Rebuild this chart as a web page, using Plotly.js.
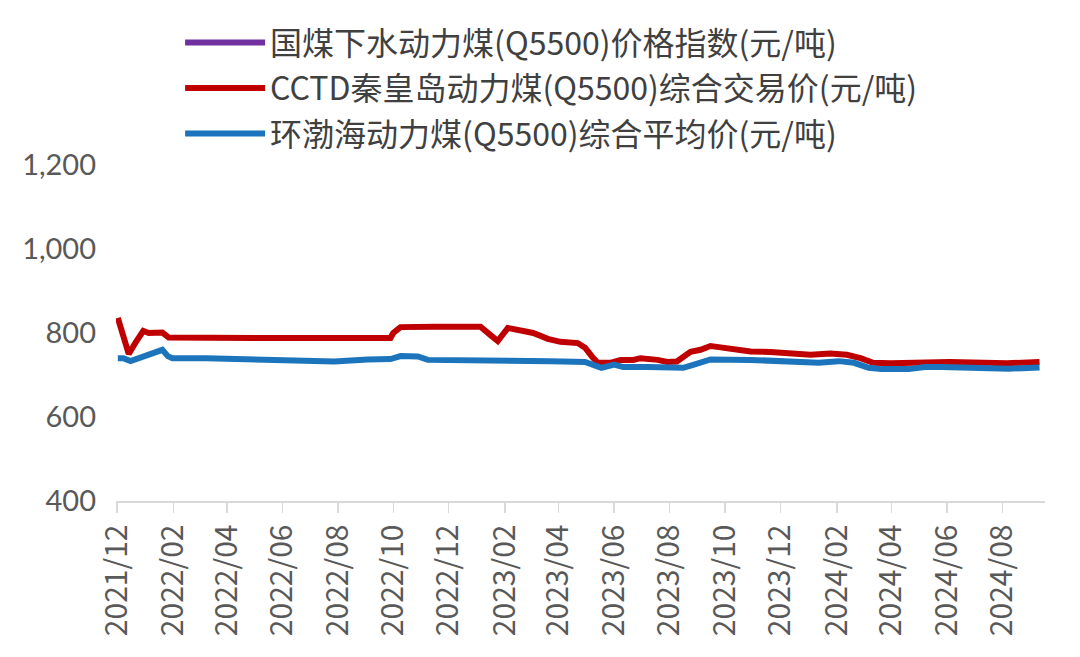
<!DOCTYPE html>
<html>
<head>
<meta charset="utf-8">
<script src="https://cdn.plot.ly/plotly-3.0.1.min.js"></script>
<style>html,body{margin:0;padding:0;background:#fff;}#chart{width:1080px;height:657px;}</style>
</head>
<body>
<div id="chart"></div>
<script>
const seriesNames = [
  "国煤下水动力煤(Q5500)价格指数(元/吨)",
  "CCTD秦皇岛动力煤(Q5500)综合交易价(元/吨)",
  "环渤海动力煤(Q5500)综合平均价(元/吨)"
];

// 国煤下水动力煤 index: no visible data in the reference
const guomeiDates = ["2021-12-01"];
const guomeiValues = [null];

const cctdDates = [
  "2021-12-02","2021-12-09","2021-12-14","2021-12-22","2021-12-30","2022-01-05","2022-01-20","2022-01-27",
  "2022-03-01","2022-05-01","2022-07-01","2022-09-28","2022-10-01","2022-10-09","2022-11-15","2022-12-15",
  "2023-01-05","2023-01-16","2023-01-24","2023-02-04","2023-02-18","2023-03-04","2023-03-20","2023-04-03",
  "2023-04-22","2023-04-30","2023-05-08","2023-05-14","2023-05-28","2023-06-08","2023-06-22","2023-06-30",
  "2023-07-19","2023-07-29","2023-08-09","2023-08-16","2023-08-24","2023-09-04","2023-09-15","2023-09-22",
  "2023-10-07","2023-10-29","2023-11-20","2023-12-12","2024-01-03","2024-01-25","2024-02-12","2024-02-27",
  "2024-03-12","2024-03-31","2024-04-18","2024-04-29","2024-05-17","2024-06-04","2024-06-30","2024-08-06",
  "2024-09-11"
];
const cctdValues = [
  836,783,750,779,805,800,801,789,
  788,788,788,788,800,814,815,815,
  815,795,781,812,807,800,786,779,
  776,765,743,729,729,736,736,740,
  736,731,732,743,755,760,769,767,
  763,756,755,752,748,751,748,740,
  729,728,729,731,733,731,730,728,
  731
];

const bohaiDates = [
  "2021-12-02","2021-12-08","2021-12-16","2021-12-29","2022-01-09","2022-01-20","2022-01-26","2022-01-31",
  "2022-03-09","2022-04-14","2022-05-22","2022-06-27","2022-07-28","2022-09-03","2022-09-28","2022-10-09",
  "2022-10-28","2022-11-08","2022-12-22","2023-01-27","2023-02-10","2023-03-23","2023-04-30","2023-05-14",
  "2023-05-18","2023-06-01","2023-06-11","2023-07-08","2023-07-29","2023-08-16","2023-08-27","2023-09-15",
  "2023-10-29","2023-12-05","2024-01-12","2024-02-03","2024-02-17","2024-02-20","2024-03-07","2024-03-21",
  "2024-04-20","2024-05-08","2024-05-26","2024-07-02","2024-08-08","2024-09-11"
];
const bohaiValues = [
  740,740,733,743,755,760,745,740,
  740,738,736,734,732,737,738,745,
  744,736,736,733,734,733,731,720,
  717,725,719,719,719,717,724,737,
  736,733,729,733,731,729,717,714,
  714,719,719,717,715,718
];

const colors = ["#7030A0", "#C00000", "#1C75BC"];

const traces = [
  {x: guomeiDates, y: guomeiValues, name: seriesNames[0], legendgroup: "g1"},
  {x: cctdDates, y: cctdValues, name: seriesNames[1], legendgroup: "g2"},
  {x: bohaiDates, y: bohaiValues, name: seriesNames[2], legendgroup: "g3"}
].map((t, i) => Object.assign(t, {
  type: "scatter", mode: "lines",
  line: {color: colors[i], width: 6},
  connectgaps: false, hoverinfo: "skip"
}));

const layout = {
  width: 1080, height: 657,
  margin: {l: 116, r: 35, t: 165, b: 156},
  paper_bgcolor: "#ffffff", plot_bgcolor: "#ffffff",
  showlegend: true,
  legend: {
    xref: "paper", yref: "container",
    x: 0.069, y: 0.977, xanchor: "left", yanchor: "top",
    font: {family: "Noto Sans CJK SC", size: 32, color: "#404040"},
    tracegroupgap: 1, itemwidth: 80, bgcolor: "rgba(0,0,0,0)"
  },
  xaxis: {
    type: "date",
    range: ["2021-11-30", "2024-09-17"],
    tick0: "2021-12-01", dtick: "M2", tickformat: "%Y/%m",
    tickangle: -90,
    tickfont: {family: "Noto Sans CJK SC", size: 30, color: "#595959"},
    showgrid: false, zeroline: false,
    showline: true, linecolor: "#D9D9D9", linewidth: 1.5,
    ticks: "outside", ticklen: 10, tickcolor: "#D9D9D9", tickwidth: 1.5
  },
  yaxis: {
    range: [400, 1200], dtick: 200, tick0: 400,
    tickformat: ",d",
    tickfont: {family: "Lato", size: 29, color: "#595959"},
    showgrid: false, zeroline: false, showline: false,
    ticks: "", ticklabelstandoff: 19
  }
};

Plotly.newPlot("chart", traces, layout, {displayModeBar: false, staticPlot: true});
</script>
</body>
</html>
